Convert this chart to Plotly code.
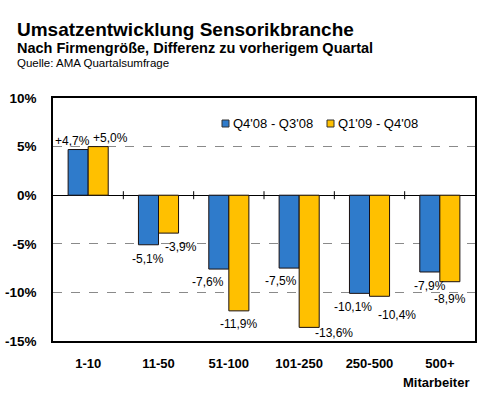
import plotly.graph_objects as go

categories = ["1-10", "11-50", "51-100", "101-250", "250-500", "500+"]
series_names = ["Q4'08 - Q3'08", "Q1'09 - Q4'08"]
q4_vs_q3 = [4.7, -5.1, -7.6, -7.5, -10.1, -7.9]
q1_vs_q4 = [5.0, -3.9, -11.9, -13.6, -10.4, -8.9]
y_ticks = [10, 5, 0, -5, -10, -15]

# label placement tweaks (pixels), to follow the hand-placed labels of the original
dx_a = [-6, 0, -11, -8, -6, 0]
dy_a = [9, -14, -13, -13, -14, -14]
dx_b = [12, 12, 0, 25, 17, 0]
dy_b = [9, -14, -13, -6, -19, -17]

BLUE = "#2F7BCB"
YELLOW = "#FFC000"
EDGE = "#1a1010"
FONT = "Liberation Sans, Arial, sans-serif"

W, H = 498, 398
ML, MR, MT, MB = 53, 23, 98, 57
PW, PH = W - ML - MR, H - MT - MB


def px_x(p):
    return (p - ML) / PW


def px_y(p):
    return (H - MB - p) / PH


def fmt(v):
    return f"{v:+.1f}".replace(".", ",") + "%"


x = list(range(len(categories)))
colors = [BLUE, YELLOW]
fig = go.Figure()
for nm, vals, col in zip(series_names, [q4_vs_q3, q1_vs_q4], colors):
    fig.add_trace(go.Bar(x=x, y=vals, name=nm, showlegend=False,
                         marker=dict(color=col, line=dict(color=EDGE, width=1))))

bargap = 0.43
half = (1 - bargap) / 4
annotations = []
for i, (a, b) in enumerate(zip(q4_vs_q3, q1_vs_q4)):
    for v, off, dx, dy in [(a, -half, dx_a[i], dy_a[i]), (b, half, dx_b[i], dy_b[i])]:
        annotations.append(dict(x=i + off, y=v, xref="x", yref="y", text=fmt(v), showarrow=False,
                                xshift=dx, yshift=dy, font=dict(family=FONT, size=12, color="black")))

header = [
    ("<b>Umsatzentwicklung Sensorikbranche</b>", 19, 29),
    ("<b>Nach Firmengröße, Differenz zu vorherigem Quartal</b>", 14.5, 48),
    ("Quelle: AMA Quartalsumfrage", 11.5, 63),
]
for txt, size, ypx in header:
    annotations.append(dict(text=txt, xref="paper", yref="paper", x=px_x(15), y=px_y(ypx),
                            xanchor="left", yanchor="middle", showarrow=False,
                            font=dict(family=FONT, size=size, color="black")))
annotations.append(dict(text="<b>Mitarbeiter</b>", xref="paper", yref="paper",
                        x=px_x(471), y=px_y(382), xanchor="right", yanchor="middle",
                        showarrow=False, font=dict(family=FONT, size=13, color="black")))

# manual legend
shapes = []
legend_x = [222, 327]
for nm, col, lx in zip(series_names, colors, legend_x):
    shapes.append(dict(type="rect", xref="paper", yref="paper", x0=px_x(lx), x1=px_x(lx + 7),
                       y0=px_y(127), y1=px_y(120), fillcolor=col, line=dict(color="#333", width=1)))
    annotations.append(dict(text=nm, xref="paper", yref="paper", x=px_x(lx + 9), y=px_y(123.5),
                            xanchor="left", yanchor="middle", showarrow=False,
                            font=dict(family=FONT, size=13, color="black")))

# tick marks across the zero line at category boundaries
for i in range(len(categories) - 1):
    shapes.append(dict(type="line", xref="x", yref="y", x0=i + 0.5, x1=i + 0.5, ysizemode="pixel",
                       yanchor=0, y0=-4, y1=4, line=dict(color="black", width=1)))

fig.update_layout(
    width=W, height=H,
    margin=dict(l=ML, r=MR, t=MT, b=MB, autoexpand=False),
    paper_bgcolor="white", plot_bgcolor="white",
    barmode="group", bargap=bargap, bargroupgap=0,
    font=dict(family=FONT, color="black"),
    showlegend=False,
    xaxis=dict(range=[-0.5, len(categories) - 0.5], tickvals=x, ticktext=[f"<b>{c}</b>" for c in categories],
               showgrid=False, zeroline=False, showline=True, mirror=True, linecolor="black", linewidth=1.5,
               ticks="", tickfont=dict(family=FONT, size=13, color="black"), ticklabelstandoff=10,
               automargin=False),
    yaxis=dict(range=[-15, 10], tickvals=y_ticks, ticktext=[f"<b>{t}%</b>" for t in y_ticks],
               showgrid=True, gridcolor="#8a8a8a", griddash="dash", gridwidth=1,
               zeroline=True, zerolinecolor="black", zerolinewidth=1.2,
               showline=True, mirror=True, linecolor="black", linewidth=1.5,
               ticks="", tickfont=dict(family=FONT, size=13.5, color="black"), ticklabelstandoff=12,
               automargin=False),
    shapes=shapes,
    annotations=annotations,
)

fig.write_html("out.html")
